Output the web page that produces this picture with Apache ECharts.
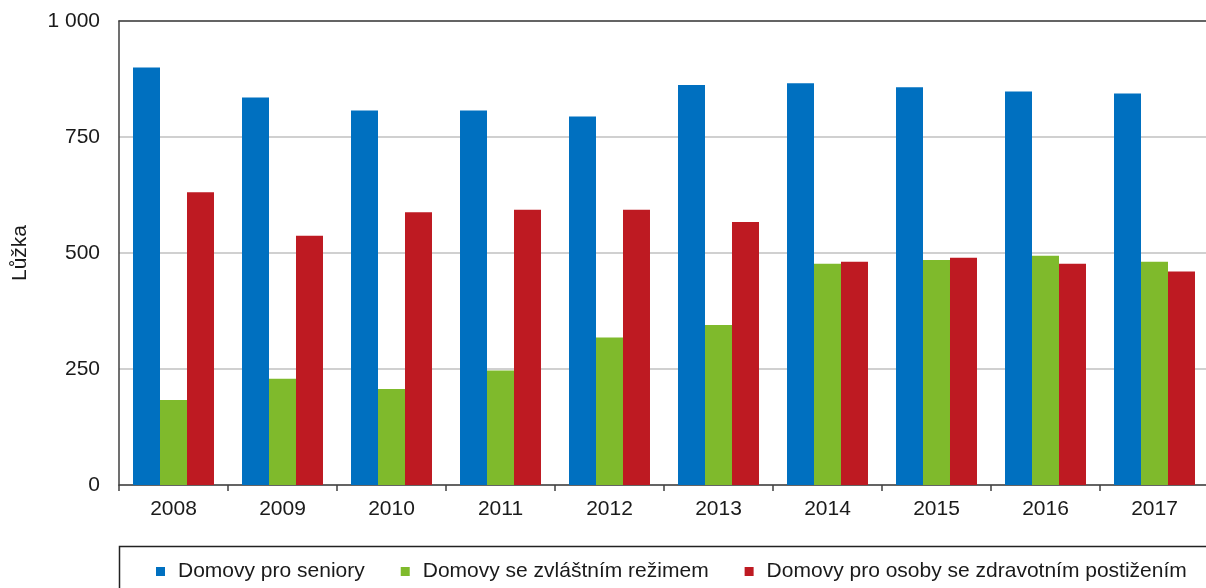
<!DOCTYPE html>
<html>
<head>
<meta charset="utf-8">
<script src="https://cdn.jsdelivr.net/npm/echarts@6/dist/echarts.min.js"></script>
<style>
  html, body { margin: 0; padding: 0; background: #fff; }
  #chart { width: 1206px; height: 588px; }
</style>
</head>
<body>
<div id="chart"></div>
<script>
// Lůžka v domovech pro seniory / se zvláštním režimem / pro osoby se zdravotním postižením
const years = ['2008', '2009', '2010', '2011', '2012', '2013', '2014', '2015', '2016', '2017']
const seniory = [900, 835, 807, 807, 794, 862, 866, 857, 848, 844]
const zvlastniRezim = [183, 229, 207, 247, 318, 345, 477, 485, 494, 481]
const postizeni = [631, 537, 588, 593, 593, 567, 481, 490, 477, 460]
const yTicks = [0, 250, 500, 750, 1000]

const font = 'Liberation Sans, Arial, sans-serif'
const axisColor = '#404040'
const textColor = '#1a1a1a'

const chart = echarts.init(document.getElementById('chart'))

const barSeries = (name, data, color) => ({
  name: name,
  type: 'bar',
  data: data,
  barGap: 0,
  barCategoryGap: '25.7%',
  itemStyle: { color: color }
})

chart.setOption({
  animation: false,
  textStyle: { fontFamily: font },
  grid: {
    left: 119,
    top: 21,
    bottom: 103,
    width: 1090,
    outerBoundsMode: 'none',
    containLabel: false
  },
  // rámeček legendy
  graphic: [
    {
      type: 'rect',
      shape: { x: 119.5, y: 546.5, width: 1100, height: 60 },
      style: { fill: 'none', stroke: '#222', lineWidth: 1.5 }
    }
  ],
  legend: {
    left: 156,
    top: 561,
    padding: 0,
    itemWidth: 9,
    itemHeight: 9,
    itemGap: 36,
    icon: 'rect',
    textStyle: { fontSize: 21, color: textColor, fontFamily: font, padding: [0, 0, 0, 8] }
  },
  xAxis: [
    {
      type: 'category',
      data: years,
      axisLine: { lineStyle: { color: axisColor, width: 1.5 } },
      axisTick: { show: true, length: 6, lineStyle: { color: axisColor, width: 1.5 } },
      axisLabel: { fontSize: 21, color: textColor, margin: 14 }
    },
    {
      // horní okraj plochy grafu
      type: 'category',
      data: years,
      position: 'top',
      axisLine: { lineStyle: { color: axisColor, width: 1.5 } },
      axisTick: { show: false },
      axisLabel: { show: false }
    }
  ],
  yAxis: {
    type: 'value',
    min: yTicks[0],
    max: yTicks[yTicks.length - 1],
    interval: 250,
    name: 'Lůžka',
    nameLocation: 'middle',
    nameGap: 88,
    nameTextStyle: { fontSize: 21, color: textColor },
    axisLine: { show: true, lineStyle: { color: axisColor, width: 1.5 } },
    axisTick: { show: false },
    axisLabel: {
      fontSize: 21,
      color: textColor,
      margin: 19,
      formatter: v => (v >= 1000 ? String(v).replace(/\B(?=(\d{3})+(?!\d))/g, ' ') : String(v))
    },
    splitLine: { lineStyle: { color: '#d0d0d0', width: 2 } }
  },
  series: [
    barSeries('Domovy pro seniory', seniory, '#0070C0'),
    barSeries('Domovy se zvláštním režimem', zvlastniRezim, '#7FBA2C'),
    barSeries('Domovy pro osoby se zdravotním postižením', postizeni, '#BE1A22')
  ]
})
</script>
</body>
</html>
